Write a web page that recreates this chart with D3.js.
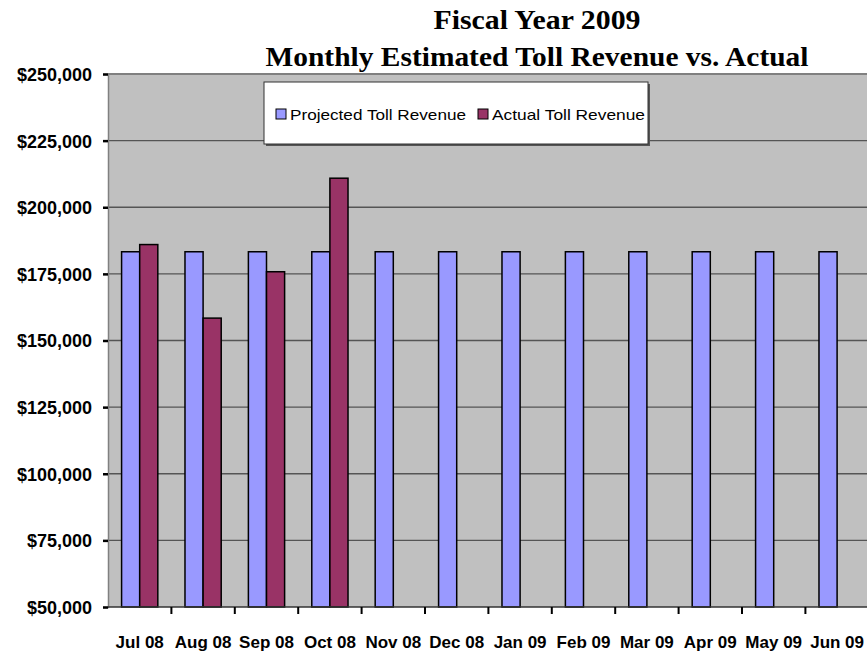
<html>
<head>
<meta charset="UTF-8">
<title>toll revenue</title>
<script src="https://d3js.org/d3.v7.min.js"></script>
</head>
<body style="margin:0;background:#fff">
<script>
// data
let months = ["Jul 08", "Aug 08", "Sep 08", "Oct 08", "Nov 08", "Dec 08",
              "Jan 09", "Feb 09", "Mar 09", "Apr 09", "May 09", "Jun 09"]
let projected = [183300, 183300, 183300, 183300, 183300, 183300,
                 183300, 183300, 183300, 183300, 183300, 183300]
let actual = [186000, 158400, 175800, 210900, null, null,
              null, null, null, null, null, null]
let seriesNames = ["Projected Toll Revenue", "Actual Toll Revenue"]
let seriesColors = ["#9999FF", "#993366"]
let yTicks = [50000, 75000, 100000, 125000, 150000, 175000, 200000, 225000, 250000]

let width = 867, height = 653
let plotLeft = 108, plotTop = 74, plotBottom = 607
let step = 63.4

let svg = d3.select("body").append("svg")
    .attr("width", width)
    .attr("height", height)
    .style("display", "block")

let x = d3.scaleBand()
    .domain(months)
    .range([plotLeft, plotLeft + step * months.length])
    .paddingInner(0).paddingOuter(0)

let xs = d3.scaleBand()
    .domain(seriesNames)
    .range([0, x.bandwidth()])
    .paddingInner(0)
    .paddingOuter(0.75)

let y = d3.scaleLinear()
    .domain([50000, 250000])
    .range([plotBottom, plotTop])

// plot area
svg.append("rect")
    .attr("x", plotLeft).attr("y", plotTop)
    .attr("width", width - plotLeft).attr("height", plotBottom - plotTop)
    .attr("fill", "#C0C0C0")

// grid
svg.append("g").selectAll("line")
    .data(yTicks.filter(d => d > 50000))
    .enter().append("line")
    .attr("x1", plotLeft).attr("x2", width)
    .attr("y1", d => y(d)).attr("y2", d => y(d))
    .attr("stroke", d => d == 250000 ? "#808080" : "#555")
    .attr("stroke-width", d => d == 250000 ? 2 : 1.3)

// bars
let table = []
months.forEach((m, i) => {
    table.push({ m: m, s: seriesNames[0], v: projected[i], c: seriesColors[0] })
    if (actual[i] != null) table.push({ m: m, s: seriesNames[1], v: actual[i], c: seriesColors[1] })
})

svg.append("g").selectAll("rect")
    .data(table).enter()
    .append("rect")
    .attr("x", d => x(d.m) + xs(d.s))
    .attr("y", d => y(d.v))
    .attr("width", xs.bandwidth())
    .attr("height", d => y(50000) - y(d.v))
    .attr("fill", d => d.c)
    .attr("stroke", "#000")
    .attr("stroke-width", 1.5)

// y axis
let yAxis = svg.append("g").attr("transform", "translate(" + plotLeft + ",0)")
    .call(d3.axisLeft(y).tickValues(yTicks).tickSize(5).tickPadding(11)
        .tickFormat(d => "$" + d3.format(",")(d)))
yAxis.select(".domain").attr("stroke", "#808080").attr("stroke-width", 1.5)
yAxis.selectAll(".tick line").attr("stroke", "#000").attr("stroke-width", 2.5)
yAxis.selectAll("text")
    .attr("fill", "#000")
    .style("font-family", "'Liberation Sans', Arial, sans-serif")
    .style("font-weight", "bold")
    .style("font-size", "18px")
    .attr("dy", "0.36em")

// x axis
let xAxis = svg.append("g").attr("transform", "translate(0," + plotBottom + ")")
    .call(d3.axisBottom(x).tickSize(0).tickPadding(29))
xAxis.select(".domain").remove()
xAxis.selectAll("text")
    .attr("fill", "#000")
    .style("font-family", "'Liberation Sans', Arial, sans-serif")
    .style("font-weight", "bold")
    .style("font-size", "17px")
svg.append("line")
    .attr("x1", plotLeft).attr("x2", width)
    .attr("y1", plotBottom).attr("y2", plotBottom)
    .attr("stroke", "#333").attr("stroke-width", 1.5)
svg.append("g").selectAll("line")
    .data(months.slice(1)).enter()
    .append("line")
    .attr("x1", d => x(d)).attr("x2", d => x(d))
    .attr("y1", plotBottom).attr("y2", plotBottom + 7)
    .attr("stroke", "#000").attr("stroke-width", 2)

// title
let title = svg.append("g")
    .style("font-family", "'Liberation Serif', 'Times New Roman', serif")
    .style("font-weight", "bold")
    .style("font-size", "27px")
    .attr("text-anchor", "middle")
title.append("text").attr("x", 537).attr("y", 29)
    .attr("textLength", 207).attr("lengthAdjust", "spacingAndGlyphs")
    .text("Fiscal Year 2009")
title.append("text").attr("x", 537).attr("y", 66)
    .attr("textLength", 543).attr("lengthAdjust", "spacingAndGlyphs")
    .text("Monthly Estimated Toll Revenue vs. Actual")

// legend
let legend = svg.append("g")
legend.append("rect")
    .attr("x", 266).attr("y", 84).attr("width", 384).attr("height", 62)
    .attr("fill", "#555")
legend.append("rect")
    .attr("x", 264).attr("y", 82).attr("width", 384).attr("height", 62)
    .attr("fill", "#fff").attr("stroke", "#333").attr("stroke-width", 1)
let legendX = [276, 478]
let legendW = [176, 153]
seriesNames.forEach((s, i) => {
    legend.append("rect")
        .attr("x", legendX[i]).attr("y", 109)
        .attr("width", 10).attr("height", 10)
        .attr("fill", seriesColors[i]).attr("stroke", "#000").attr("stroke-width", 1)
    legend.append("text")
        .attr("x", legendX[i] + 14).attr("y", 120)
        .attr("textLength", legendW[i]).attr("lengthAdjust", "spacingAndGlyphs")
        .style("font-family", "'Liberation Sans', Arial, sans-serif")
        .style("font-size", "15px")
        .text(s)
})
</script>
</body>
</html>
